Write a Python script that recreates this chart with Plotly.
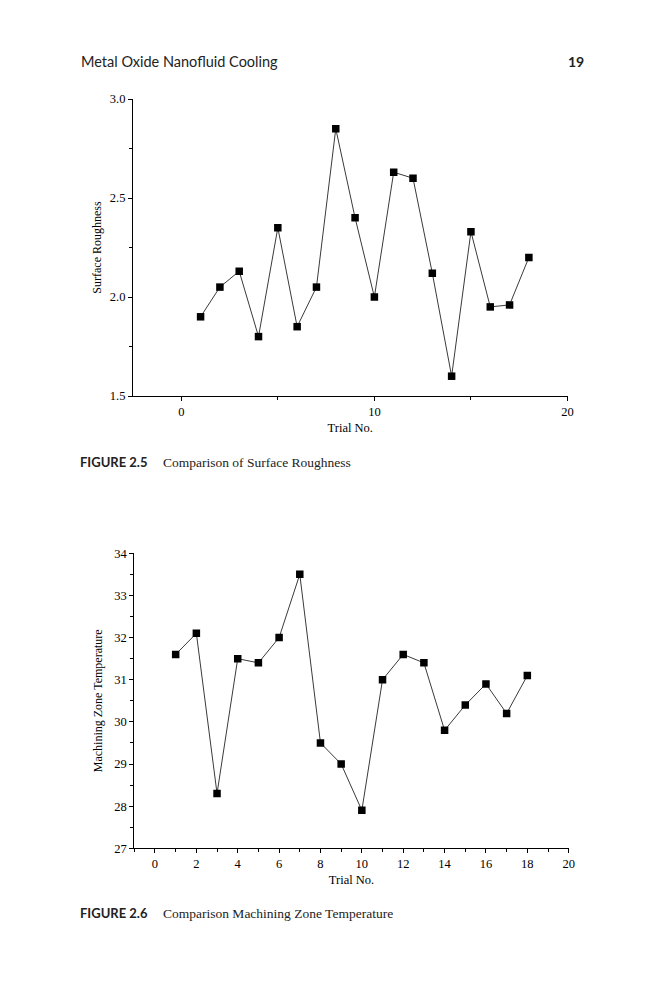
import plotly.graph_objects as go

# Figure 2.5 - surface roughness per trial
trials_sr = list(range(1, 19))
surface_roughness = [1.90, 2.05, 2.13, 1.80, 2.35, 1.85, 2.05, 2.85, 2.40,
                     2.00, 2.63, 2.60, 2.12, 1.60, 2.33, 1.95, 1.96, 2.20]

# Figure 2.6 - machining zone temperature per trial
trials_mt = list(range(1, 19))
zone_temperature = [31.6, 32.1, 28.3, 31.5, 31.4, 32.0, 33.5, 29.5, 29.0,
                    27.9, 31.0, 31.6, 31.4, 29.8, 30.4, 30.9, 30.2, 31.1]

# the page body has an 8px margin, so the figure is a bit smaller than the window
OFF = 8
W, H = 666 - OFF, 1000 - OFF
SERIF = "Liberation Serif, Times New Roman, serif"
SANS = "Lato, Open Sans, sans-serif"


def px_x(v):
    return (v - OFF) / W


def px_y(v):
    return 1 - (v - OFF) / H


def series(x, y, xa, ya):
    return go.Scatter(
        x=x, y=y, xaxis=xa, yaxis=ya,
        mode="lines+markers",
        line=dict(color="#3a3a3a", width=1),
        marker=dict(symbol="square", size=7.5, color="black"),
        showlegend=False,
    )


fig = go.Figure()
fig.add_trace(series(trials_sr, surface_roughness, "x", "y"))
fig.add_trace(series(trials_mt, zone_temperature, "x2", "y2"))

axis_common = dict(
    showline=True, linecolor="black", linewidth=1.2,
    showgrid=False, zeroline=False,
    ticks="outside", ticklen=4, tickwidth=1, tickcolor="black",
    automargin=False,
)
xtick_font = dict(family=SERIF, size=12.5, color="black")
ytick_font = dict(family=SERIF, size=12.5, color="black")
xtitle_font = dict(family=SERIF, size=12.5, color="black")
ytitle_font = dict(family=SERIF, size=12, color="black")

fig.update_layout(
    width=W, height=H,
    margin=dict(l=0, r=0, t=0, b=0),
    paper_bgcolor="white", plot_bgcolor="white",
    xaxis=dict(
        **axis_common,
        domain=[px_x(133), px_x(567.5)],
        range=[-2.5, 20], dtick=10, tick0=0, tickfont=xtick_font,
        minor=dict(ticks="outside", dtick=5, tick0=0, ticklen=3, tickcolor="black"),
        anchor="y",
        title=dict(text="Trial No.", font=xtitle_font, standoff=5),
    ),
    yaxis=dict(
        **axis_common,
        domain=[px_y(396), px_y(99)],
        range=[1.5, 3.0], dtick=0.5, tick0=1.5, tickformat=".1f", tickfont=ytick_font,
        minor=dict(ticks="outside", dtick=0.25, tick0=1.5, ticklen=3, tickcolor="black"),
        anchor="x",
        title=dict(text="Surface Roughness", font=ytitle_font, standoff=5),
    ),
    xaxis2=dict(
        **axis_common,
        domain=[px_x(134.3), px_x(568.7)],
        range=[-1, 20], dtick=2, tick0=0, tickfont=xtick_font,
        minor=dict(ticks="outside", dtick=1, tick0=0, ticklen=3, tickcolor="black"),
        anchor="y2",
        title=dict(text="Trial No.", font=xtitle_font, standoff=4),
    ),
    yaxis2=dict(
        **axis_common,
        domain=[px_y(848.3), px_y(553.3)],
        range=[27, 34], dtick=1, tick0=27, tickfont=ytick_font,
        minor=dict(ticks="outside", dtick=0.5, tick0=27, ticklen=3, tickcolor="black"),
        anchor="x2",
        title=dict(text="Machining Zone Temperature", font=ytitle_font, standoff=8),
    ),
)

# page header
fig.add_annotation(text="Metal Oxide Nanofluid Cooling", x=px_x(79), y=px_y(61),
                   xref="paper", yref="paper", xanchor="left", yanchor="middle",
                   showarrow=False, font=dict(family=SANS, size=14.5, color="#222222"))
fig.add_annotation(text="<b>19</b>", x=px_x(586), y=px_y(61),
                   xref="paper", yref="paper", xanchor="right", yanchor="middle",
                   showarrow=False, font=dict(family=SANS, size=14, color="#222222"))

# figure captions
for label, text, ypos in [
    ("FIGURE 2.5", "Comparison of Surface Roughness", 462),
    ("FIGURE 2.6", "Comparison Machining Zone Temperature", 913),
]:
    fig.add_annotation(text=f"<b>{label}</b>", x=px_x(78), y=px_y(ypos),
                       xref="paper", yref="paper", xanchor="left", yanchor="middle",
                       showarrow=False, font=dict(family=SANS, size=13, color="#222222"))
    fig.add_annotation(text=text, x=px_x(161), y=px_y(ypos),
                       xref="paper", yref="paper", xanchor="left", yanchor="middle",
                       showarrow=False, font=dict(family=SERIF, size=13.5, color="#222222"))

fig.write_html("out.html")
